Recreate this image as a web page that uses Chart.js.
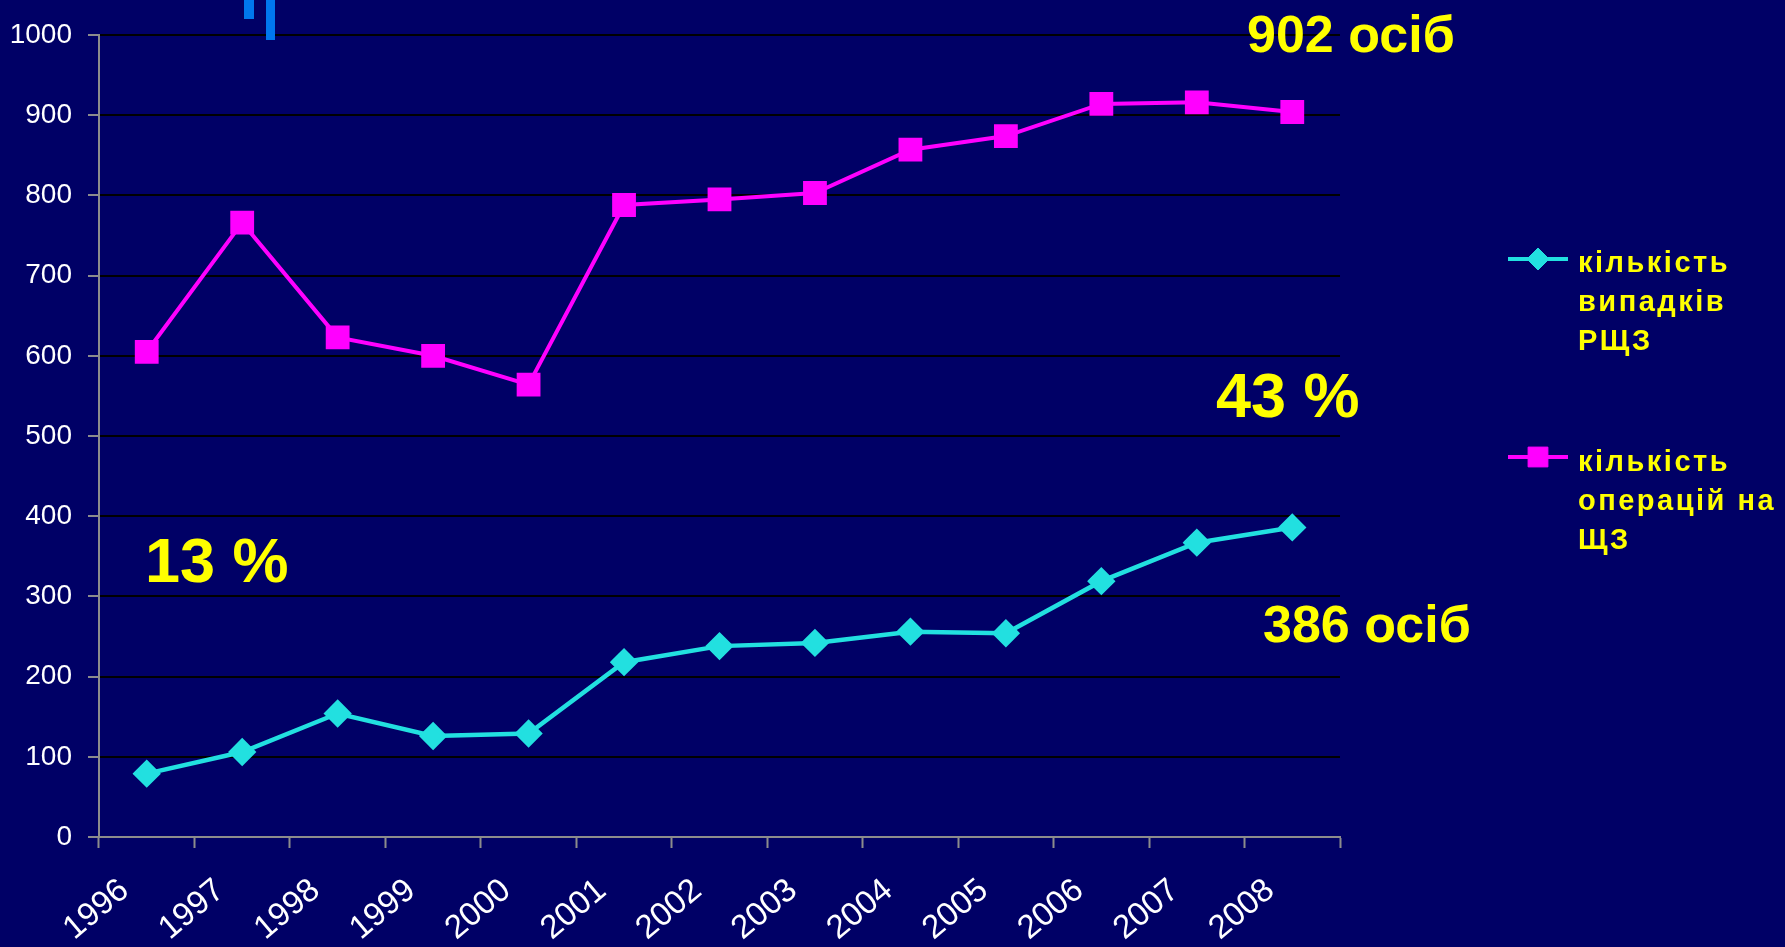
<!DOCTYPE html>
<html>
<head>
<meta charset="utf-8">
<script src="https://cdn.jsdelivr.net/npm/chart.js@4"></script>
<style>
  body { margin: 0; background: #000066; overflow: hidden; }
  #wrap { position: relative; width: 1785px; height: 947px; }
  canvas { position: absolute; left: 0; top: 0; }
  .note { position: absolute; color: #ffff00; font-family: "Liberation Sans", Arial, sans-serif; font-weight: bold; line-height: 1; white-space: nowrap; }
  .big { font-size: 52px; }
  .pct { font-size: 63px; }
  .leg { position: absolute; left: 1578px; color: #ffff00; font-family: "Liberation Sans", Arial, sans-serif; font-weight: bold; font-size: 29px; line-height: 39px; letter-spacing: 2.5px; white-space: nowrap; }
  .blip { position: absolute; background: #0077ee; }
</style>
</head>
<body>
<div id="wrap">
  <canvas id="grafik" width="1785" height="947"></canvas>
  <div class="blip" style="left:244px;top:0;width:10px;height:19px"></div>
  <div class="blip" style="left:266px;top:0;width:9px;height:40px"></div>
  <div class="note big" style="left:1247px;top:8px">902 осіб</div>
  <div class="note pct" style="left:1216px;top:364px">43 %</div>
  <div class="note pct" style="left:145px;top:529px">13 %</div>
  <div class="note big" style="left:1263px;top:598px">386 осіб</div>
  <div class="leg" style="top:243px">кількість<br>випадків<br>РЩЗ</div>
  <div class="leg" style="top:442px">кількість<br>операцій на<br>ЩЗ</div>
</div>
<script>
let roky = ['1996','1997','1998','1999','2000','2001','2002','2003','2004','2005','2006','2007','2008'];
let vypadky = [79, 106, 154, 126, 129, 218, 238, 242, 256, 254, 319, 367, 386];
let operacii = [605, 766, 623, 600, 564, 788, 795, 803, 857, 874, 914, 916, 904];

let cyan = '#22e0e0';
let magenta = '#ff00ff';
let sire = '#8c8c8c';

// legend markers drawn by hand on the right
let legendaZnaky = {
    id: 'legendaZnaky',
    afterDraw(chart) {
        let ctx = chart.ctx;
        let radky = [
            { y: 259, ds: chart.data.datasets[0] },
            { y: 457, ds: chart.data.datasets[1] }
        ];
        radky.forEach(r => {
            ctx.save();
            ctx.strokeStyle = r.ds.borderColor;
            ctx.lineWidth = 4;
            ctx.beginPath();
            ctx.moveTo(1508, r.y);
            ctx.lineTo(1568, r.y);
            ctx.stroke();
            ctx.fillStyle = r.ds.pointBackgroundColor;
            ctx.strokeStyle = r.ds.pointBorderColor;
            ctx.lineWidth = 1;
            Chart.helpers.drawPoint(ctx, { pointStyle: r.ds.pointStyle, radius: r.ds.pointRadius, borderWidth: 1, rotation: 0 }, 1538, r.y);
            ctx.restore();
        });
    }
};

new Chart(document.getElementById('grafik'), {
    type: 'line',
    data: {
        labels: roky,
        datasets: [
            {
                label: 'кількість випадків РЩЗ',
                data: vypadky,
                borderColor: cyan,
                borderWidth: 4.5,
                pointStyle: 'rectRot',
                pointRadius: 11,
                pointBackgroundColor: cyan,
                pointBorderColor: cyan,
                tension: 0
            },
            {
                label: 'кількість операцій на ЩЗ',
                data: operacii,
                borderColor: magenta,
                borderWidth: 4,
                pointStyle: 'rect',
                pointRadius: 14,
                pointBackgroundColor: magenta,
                pointBorderColor: magenta,
                tension: 0
            }
        ]
    },
    options: {
        responsive: false,
        animation: false,
        layout: { padding: { left: 0, top: 35, right: 445, bottom: 0 } },
        plugins: {
            legend: { display: false },
            tooltip: { enabled: false }
        },
        scales: {
            x: {
                offset: true,
                grid: { offset: true, drawOnChartArea: false, drawTicks: true, tickLength: 11, tickColor: sire, tickWidth: 2 },
                border: { color: sire, width: 2 },
                ticks: {
                    color: '#ffffff',
                    font: { family: 'Liberation Sans', size: 33 },
                    minRotation: 40,
                    maxRotation: 40,
                    padding: 23,
                    labelOffset: -22
                },
                afterFit(scale) { scale.height = 110; }
            },
            y: {
                min: 0,
                max: 1000,
                ticks: {
                    stepSize: 100,
                    color: '#ffffff',
                    font: { family: 'Liberation Sans', size: 28 },
                    padding: 16,
                    callback: v => String(v)
                },
                grid: { color: '#000000', lineWidth: 2, tickLength: 11, tickColor: sire, tickWidth: 2 },
                border: { color: sire, width: 2 },
                afterFit(scale) { scale.width = 99; }
            }
        }
    },
    plugins: [legendaZnaky]
});
</script>
</body>
</html>
